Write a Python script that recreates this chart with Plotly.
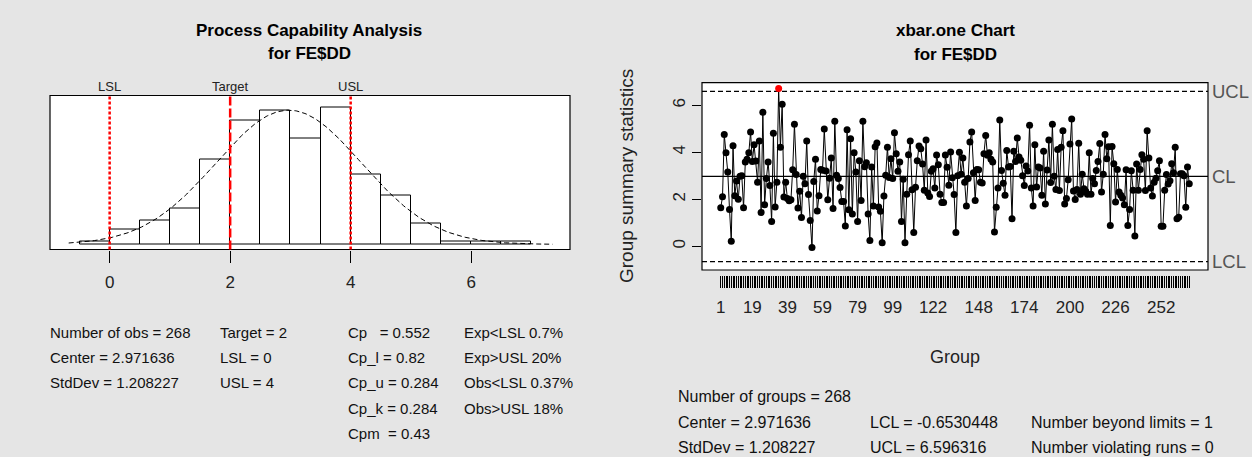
import numpy as np
import plotly.graph_objects as go

W, H = 1252, 457

# ---------------- data ----------------
group_values = [
    1.64, 2.11, 4.76, 3.98, 3.16, 1.57, 0.21, 4.28, 2.15, 2.78,
    2.00, 2.98, 3.00, 1.64, 3.59, 3.70, 3.98, 4.86, 3.61, 4.32,
    3.63, 2.73, 4.48, 1.44, 5.70, 1.77, 2.88, 3.59, 2.59, 1.06,
    4.81, 1.67, 2.73, 6.71, 4.21, 6.04, 2.10, 2.73, 2.03, 1.94,
    1.98, 3.26, 5.19,
    3.05, 1.63, 2.34, 1.22, 2.98, 2.66, 4.48, 2.20, 1.10, -0.05,
    2.76, 3.70, 1.50, 2.15, 3.27, 3.24, 4.99, 3.20, 1.98, 2.90,
    3.76, 1.61, 5.32, 3.02, 2.88, 2.50, 1.91, 1.91, 0.86, 4.96,
    1.56, 4.58, 1.37, 3.98, 3.16, 1.05, 3.64, 1.95, 5.32, 3.39,
    3.56, 1.37, 0.25,
    3.37, 1.71, 4.24, 4.40, 1.67, 1.49, 0.15, 2.14, 3.02, 4.22,
    2.93, 3.73, 2.88, 4.83, 3.94, 3.19, 3.59, 1.06, 2.85, 0.15,
    2.22, 3.90, 4.48, 2.41, 0.59, 2.51, 3.64, 4.27, 4.15, 3.50,
    2.38, 4.52, 2.27, 2.12, 3.19, 3.30, 2.48, 3.88, 3.47, 2.21,
    1.86, 1.86, 3.88, 3.36, 2.60,
    4.01, 2.92, 2.20, 0.59, 3.00, 4.00, 3.07, 3.76, 2.73, 1.71,
    2.88, 4.44, 4.86, 3.13, 1.95, 3.27, 3.26, 2.73, 2.69, 3.94,
    4.72, 3.87, 3.98, 3.70, 3.59, 0.61, 1.66, 2.48, 5.37, 3.23,
    2.68, 2.17, 4.08, 3.37, 3.40, 1.17, 4.04, 3.61, 4.61, 3.80,
    3.66, 3.00, 2.59, 3.42,
    3.20, 5.15, 2.48, 1.71, 4.32, 2.52, 3.37, 3.33, 2.17, 4.04,
    1.80, 3.25, 4.52, 2.71, 5.19, 2.98, 2.42, 4.12, 2.37, 4.21,
    4.92, 1.80, 2.03, 2.83, 4.35, 5.42, 2.35, 1.99, 2.42, 4.38,
    2.22, 3.07, 2.45, 2.34, 2.22, 3.98, 2.22, 2.88, 2.66, 3.23,
    3.61, 4.37, 2.31, 3.07, 4.76, 3.73, 4.24,
    0.88, 4.25, 3.51, 1.88, 3.27, 2.31, 2.17, 2.05, 1.77, 3.26,
    0.89, 1.57, 3.22, 2.39, 0.44, 3.50, 2.39, 3.27, 3.90, 3.70,
    2.37, 4.92, 3.76, 2.48, 2.14, 2.73, 2.90, 3.22, 3.64, 0.85,
    0.85, 2.38, 3.05, 2.65, 2.79, 3.51, 3.13, 4.21, 1.17, 1.24,
    3.09, 3.09, 3.00, 1.66, 3.37, 2.66,
]
group_ids = list(range(1, len(group_values) + 1))
group_tick_labels = [1, 19, 39, 59, 79, 99, 122, 148, 174, 200, 226, 252]

hist_bin_starts = [-0.5, 0.0, 0.5, 1.0, 1.5, 2.0, 2.5, 3.0, 3.5, 4.0, 4.5, 5.0, 5.5, 6.0, 6.5]
hist_counts = [1, 5, 8, 12, 28, 41, 44, 35, 45, 23, 16, 7, 1, 1, 1]
bin_width = 0.5

n_obs = 268
center = 2.971636
std_dev = 1.208227
lcl = -0.6530448
ucl = 6.596316
lsl, target, usl = 0, 2, 4
spec_names = ["LSL", "Target", "USL"]
spec_values = [lsl, target, usl]

left_info = [
    ["Number of obs = 268", "Center = 2.971636", "StdDev = 1.208227"],
    ["Target = 2", "LSL = 0", "USL = 4"],
    ["Cp\u00a0\u00a0 = 0.552", "Cp_l = 0.82", "Cp_u = 0.284", "Cp_k = 0.284", "Cpm\u00a0 = 0.43"],
    ["Exp&lt;LSL 0.7%", "Exp&gt;USL 20%", "Obs&lt;LSL 0.37%", "Obs&gt;USL 18%"],
]
right_info = [
    ["Number of groups = 268", "Center = 2.971636", "StdDev = 1.208227"],
    ["", "LCL = -0.6530448", "UCL = 6.596316"],
    ["", "Number beyond limits = 1", "Number violating runs = 0"],
]

# ---------------- helpers ----------------
def px(x):
    return x / W

def py(y):
    return 1 - y / H

FONT = "Liberation Sans, Arial, sans-serif"
BG = "#e5e5e5"

fig = go.Figure()

# ---------------- left: histogram ----------------
fig.add_trace(go.Bar(
    x=[s + bin_width / 2 for s in hist_bin_starts], y=hist_counts, width=bin_width,
    marker=dict(color="white", line=dict(color="black", width=1)),
    xaxis="x", yaxis="y", showlegend=False, hoverinfo="skip"))

xs = np.linspace(-0.68, 7.35, 300)
dens = np.exp(-0.5 * ((xs - center) / std_dev) ** 2) / (std_dev * np.sqrt(2 * np.pi))
fig.add_trace(go.Scatter(
    x=xs, y=dens * n_obs * bin_width, mode="lines",
    line=dict(color="black", width=1, dash="5px,3px"),
    xaxis="x", yaxis="y", showlegend=False, hoverinfo="skip", cliponaxis=False))

# ---------------- right: xbar.one ----------------
colors = ["red" if (v > ucl or v < lcl) else "black" for v in group_values]
fig.add_trace(go.Scatter(
    x=group_ids, y=group_values, mode="lines+markers",
    line=dict(color="black", width=1),
    marker=dict(color=colors, size=7),
    xaxis="x2", yaxis="y2", showlegend=False))

shapes = []
shapes.append(dict(type="rect", xref="x domain", yref="y domain", x0=0, x1=1, y0=0, y1=1,
                   line=dict(color="black", width=1.2), layer="above"))
shapes.append(dict(type="rect", xref="x2 domain", yref="y2 domain", x0=0, x1=1, y0=0, y1=1,
                   line=dict(color="black", width=1.2), layer="above"))
for name, v in zip(spec_names, spec_values):
    dash = "9px,3px" if name == "Target" else "3px,2px"
    shapes.append(dict(type="line", xref="x", yref="y domain", x0=v, x1=v, y0=0, y1=1,
                       line=dict(color="red", width=2.5, dash=dash), layer="above"))
shapes.append(dict(type="line", xref="x2 domain", yref="y2", x0=0, x1=1, y0=center, y1=center,
                   line=dict(color="black", width=1.2), layer="below"))
for v in (ucl, lcl):
    shapes.append(dict(type="line", xref="x2 domain", yref="y2", x0=0, x1=1, y0=v, y1=v,
                       line=dict(color="black", width=1.2, dash="5px,3px"), layer="below"))

ann = []
def text(x, y, s, size=15, bold=False, anchor="left", color="#111", angle=0, xref="paper", yref="paper"):
    if bold:
        s = "<b>" + s + "</b>"
    ann.append(dict(x=x, y=y, xref=xref, yref=yref, text=s, showarrow=False,
                    xanchor=anchor, yanchor="middle", textangle=angle,
                    font=dict(family=FONT, size=size, color=color)))

text(px(309), py(30), "Process Capability Analysis", 17, True, "center", "black")
text(px(309), py(53), "for FE$DD", 17, True, "center", "black")
text(px(955), py(30), "xbar.one Chart", 17, True, "center", "black")
text(px(955), py(54), "for FE$DD", 17, True, "center", "black")

for name, v in zip(spec_names, spec_values):
    ann.append(dict(x=v, y=py(86), xref="x", yref="paper", text=name, showarrow=False,
                    xanchor="center", yanchor="middle",
                    font=dict(family=FONT, size=13, color="#222")))

for name, v in zip(["UCL", "CL", "LCL"], [ucl, center, lcl]):
    ann.append(dict(x=px(1210), y=v, xref="paper", yref="y2", text=name, showarrow=False,
                    xanchor="left", yanchor="middle",
                    font=dict(family=FONT, size=18.5, color="#555")))

text(px(627), py(176), "Group summary statistics", 19, False, "center", "#222", -90)
text(px(955), py(357), "Group", 18, False, "center", "#222")

left_cols_x = [48, 218, 346, 462]
left_rows_y = [332, 357, 382, 408, 433]
for cx, col in zip(left_cols_x, left_info):
    for ry, s in zip(left_rows_y, col):
        if s:
            text(px(cx), py(ry), s, 15)
right_cols_x = [676, 868, 1029]
right_rows_y = [396, 422, 447]
for cx, col in zip(right_cols_x, right_info):
    for ry, s in zip(right_rows_y, col):
        if s:
            text(px(cx), py(ry), s, 16)

fig.update_layout(
    width=W, height=H, margin=dict(l=0, r=0, t=0, b=0),
    paper_bgcolor=BG, plot_bgcolor="white",
    font=dict(family=FONT, color="#111"),
    bargap=0, shapes=shapes, annotations=ann, showlegend=False,
    xaxis=dict(domain=[px(50), px(570)], range=[-0.99, 7.64], anchor="free", position=py(250),
               tickvals=[0, 2, 4, 6], ticks="outside", ticklen=12, tickcolor="black", tickwidth=1,
               showline=False, showgrid=False, zeroline=False,
               tickfont=dict(size=17, color="#222"), ticklabelstandoff=5),
    yaxis=dict(domain=[py(249.5), py(95.5)], range=[-1.68, 49.09], anchor="x",
               showticklabels=False, ticks="", showgrid=False, zeroline=False, showline=False),
    xaxis2=dict(domain=[px(702), px(1208)], range=[-9.68, 278.68], anchor="free", position=py(275),
                tickvals=group_ids,
                ticktext=[str(g) if g in group_tick_labels else "" for g in group_ids],
                ticks="outside", ticklen=12, tickcolor="black", tickwidth=1,
                showline=False, showgrid=False, zeroline=False,
                tickfont=dict(size=17, color="#222"), ticklabelstandoff=5),
    yaxis2=dict(domain=[py(270), py(82.7)], range=[-1.009, 6.962], anchor="x2",
                tickvals=[0, 2, 4, 6], ticks="outside", ticklen=9, tickcolor="black", tickwidth=1,
                tickangle=-90, showline=False, showgrid=False, zeroline=False,
                tickfont=dict(size=17, color="#222")),
)

fig.write_html(
    "out.html",
    config={"displayModeBar": False},
    post_script="document.body.style.margin='0';document.body.style.padding='0';"
                "document.body.style.background='" + BG + "';"
                "document.body.style.overflow='hidden';",
)
